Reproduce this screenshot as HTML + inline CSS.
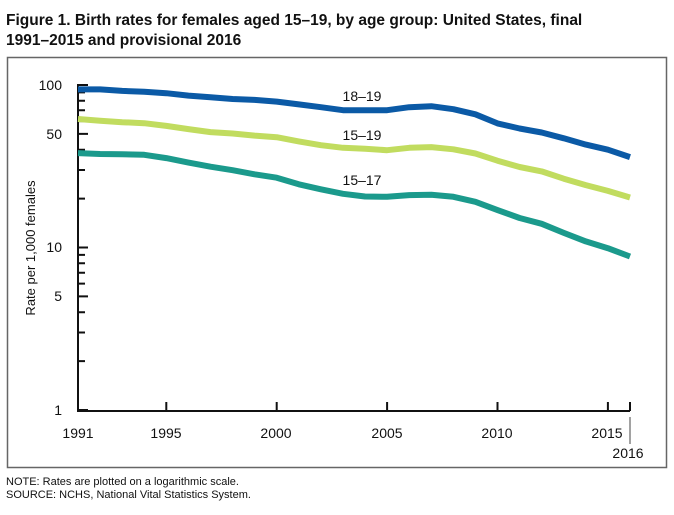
<!DOCTYPE html>
<html><head><meta charset="utf-8"><style>
body{margin:0;background:#fff;width:674px;height:510px;overflow:hidden;font-family:"Liberation Sans",Arial,sans-serif}
</style></head><body>
<svg width="674" height="510" xmlns="http://www.w3.org/2000/svg" font-family="Liberation Sans, Arial, sans-serif">
<text x="6" y="25" font-size="15.5" font-weight="bold" fill="#111">Figure 1. Birth rates for females aged 15–19, by age group: United States, final</text>
<text x="6" y="45" font-size="15.5" font-weight="bold" fill="#111">1991–2015 and provisional 2016</text>
<rect x="7.5" y="57.5" width="659" height="410" fill="none" stroke="#666" stroke-width="1.5"/>
<g id="axes" stroke="#111" stroke-width="2" fill="none"></g>
<g id="lines" fill="none" stroke-width="6" stroke-linejoin="round" stroke-linecap="butt"></g>
<g font-size="14" fill="#111" text-anchor="end">
<text x="62" y="90">100</text><text x="62" y="139">50</text><text x="62" y="252">10</text><text x="62" y="301">5</text><text x="62" y="415">1</text>
</g>
<g font-size="14" fill="#111" text-anchor="middle">
<text x="78" y="438">1991</text><text x="166" y="438">1995</text><text x="276" y="438">2000</text><text x="387" y="438">2005</text><text x="497" y="438">2010</text><text x="607" y="438">2015</text><text x="628" y="458">2016</text>
<text x="362" y="101">18–19</text><text x="362" y="140">15–19</text><text x="362" y="185">15–17</text>
</g>
<line x1="630" y1="417" x2="630" y2="444" stroke="#444" stroke-width="1"/>
<text transform="translate(35,248) rotate(-90)" font-size="13" text-anchor="middle" fill="#111">Rate per 1,000 females</text>
<text x="6" y="485" font-size="11" fill="#111">NOTE: Rates are plotted on a logarithmic scale.</text>
<text x="6" y="498" font-size="11" fill="#111">SOURCE: NCHS, National Vital Statistics System.</text>
</svg>
<script>
var ns="http://www.w3.org/2000/svg";
function Y(v){return 410-162.5*Math.log10(v);}
function X(yr){return 78+(yr-1991)*22.08;}
var ax=document.getElementById("axes"),d="M78 84 V411 H630";
var tv=[1,2,3,4,5,6,7,8,9,10,20,30,40,50,60,70,80,90,100];
tv.forEach(function(v){var y=Y(v).toFixed(1);d+=" M78 "+y+" H"+(v==1||v==5||v==10||v==50||v==100?88:85);});
[1995,2000,2005,2010,2015,2016].forEach(function(yr){d+=" M"+X(yr).toFixed(1)+" 411 V402";});
var p=document.createElementNS(ns,"path");p.setAttribute("d",d);ax.appendChild(p);
var S=[
["#0b5aa6",[94,94,92,91,89,86,84,82,81,79,76,73,70,70,70,73,74,71,66,58,54,51,47,43,40,36]],
["#c1dc5f",[61.8,60.3,59,58.2,56,53.5,51.3,50.3,48.8,47.7,45,42.6,41.1,40.5,39.7,41.1,41.5,40.2,37.9,34.2,31.3,29.4,26.5,24.2,22.3,20.3]],
["#1b9a8c",[38.1,37.6,37.5,37.2,35.5,33.3,31.4,29.9,28.2,26.9,24.5,22.8,21.4,20.6,20.5,21.0,21.1,20.5,19.1,17.0,15.2,14.0,12.3,10.9,9.9,8.8]]];
var L=document.getElementById("lines");
S.forEach(function(s){var pts=s[1].map(function(v,i){return X(1991+i).toFixed(1)+","+Y(v).toFixed(1);}).join(" ");
var pl=document.createElementNS(ns,"polyline");pl.setAttribute("points",pts);pl.setAttribute("stroke",s[0]);L.appendChild(pl);});
</script>
</body></html>
